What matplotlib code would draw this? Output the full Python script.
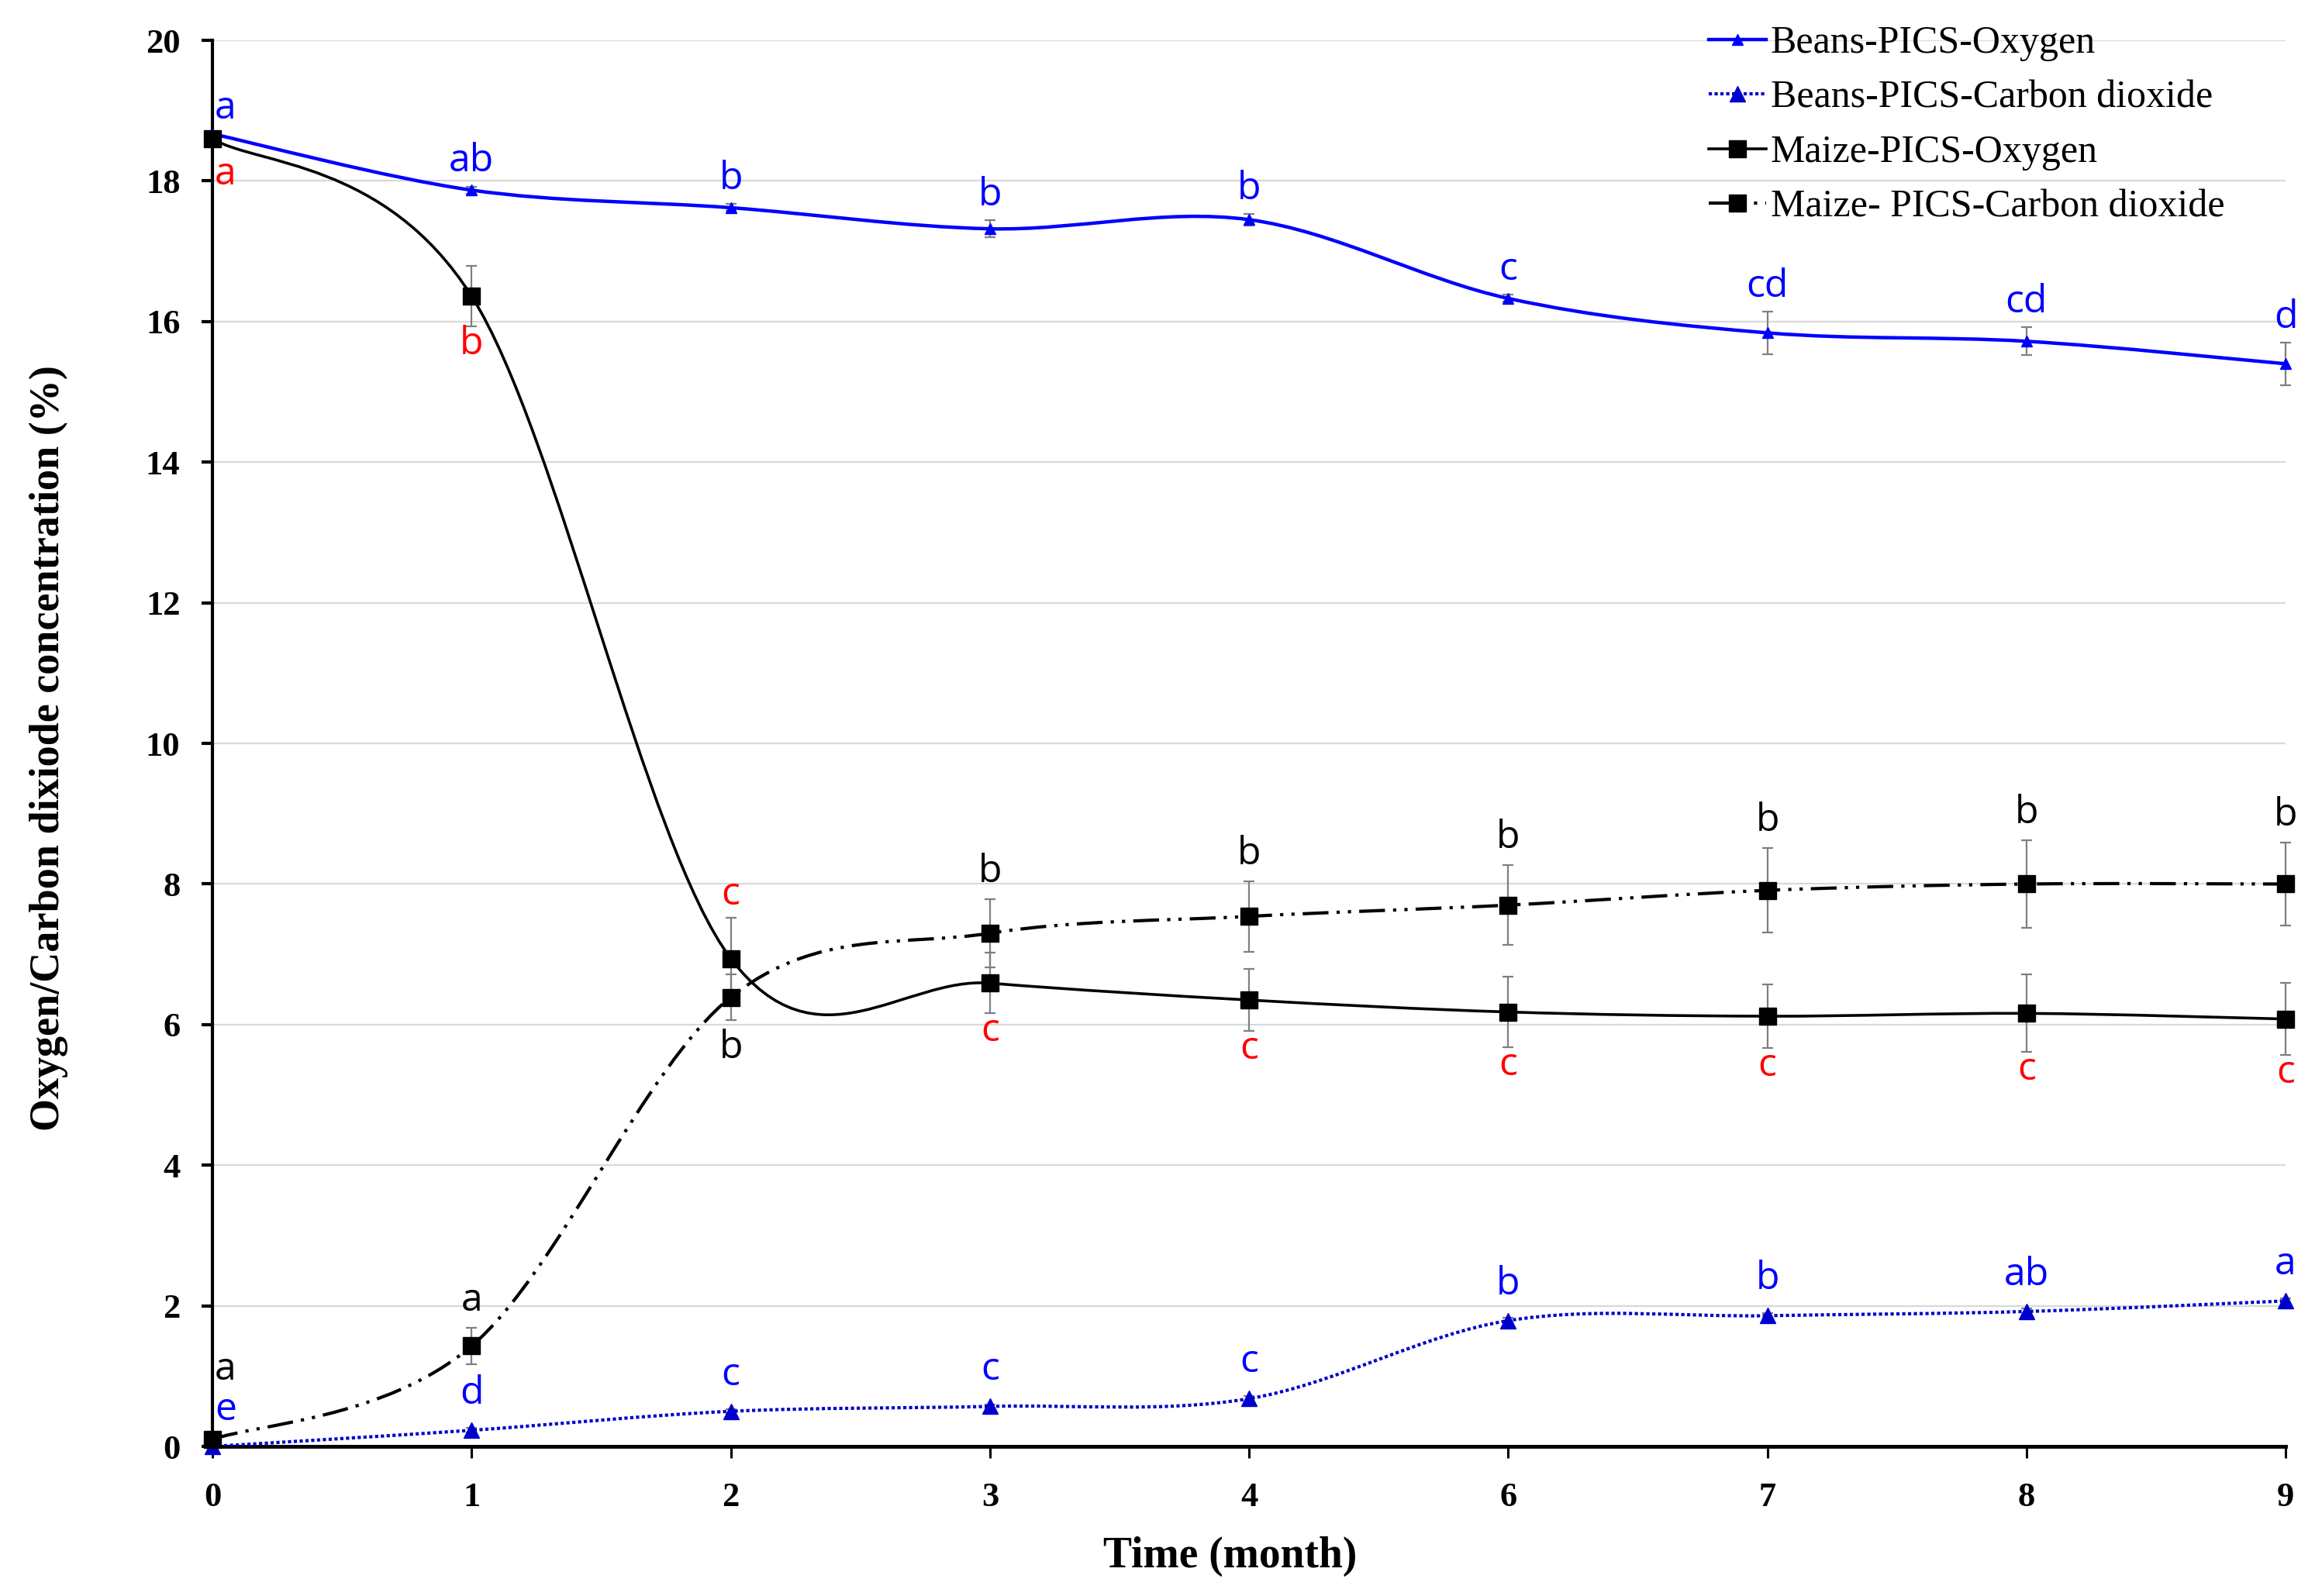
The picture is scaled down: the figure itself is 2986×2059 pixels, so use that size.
import matplotlib
matplotlib.use("Agg")
import matplotlib.pyplot as plt
import numpy as np
from matplotlib.path import Path
from matplotlib.patches import PathPatch
from matplotlib.lines import Line2D

# categories (time in months, equally spaced on a category axis)
months = ["0", "1", "2", "3", "4", "6", "7", "8", "9"]

# Beans in PICS bags
beans_o2 = [18.67, 17.87, 17.62, 17.32, 17.45, 16.33, 15.84, 15.72, 15.40]
beans_o2_err = [0.0, 0.05, 0.05, 0.12, 0.08, 0.05, 0.30, 0.20, 0.30]
beans_co2 = [0.0, 0.23, 0.50, 0.57, 0.68, 1.79, 1.86, 1.92, 2.07]
beans_co2_err = [0.0, 0.03, 0.03, 0.03, 0.04, 0.04, 0.04, 0.04, 0.04]

# Maize in PICS bags
maize_o2 = [18.60, 16.36, 6.94, 6.59, 6.35, 6.18, 6.12, 6.16, 6.08]
maize_o2_err = [0.0, 0.43, 0.58, 0.43, 0.44, 0.50, 0.45, 0.55, 0.51]
maize_co2 = [0.10, 1.43, 6.39, 7.30, 7.54, 7.70, 7.91, 8.00, 8.00]
maize_co2_err = [0.0, 0.26, 0.33, 0.48, 0.50, 0.57, 0.60, 0.62, 0.59]

# significance letters
beans_o2_lab = ["a", "ab", "b", "b", "b", "c", "cd", "cd", "d"]
beans_co2_lab = ["e", "d", "c", "c", "c", "b", "b", "ab", "a"]
maize_o2_lab = ["a", "b", "c", "c", "c", "c", "c", "c", "c"]
maize_co2_lab = ["a", "a", "b", "b", "b", "b", "b", "b", "b"]

BLUE = "#0000ff"
BLUE2 = "#0000cc"
RED = "#ff0000"
serif = "Liberation Serif"
sans = "Open Sans"


def smooth_path(xs, ys):
    # Bezier curve through the points (like Excel's "smoothed line")
    pts = np.column_stack([xs, ys]).astype(float)
    n = len(pts)
    verts = [pts[0]]
    codes = [Path.MOVETO]
    for i in range(n - 1):
        p0 = pts[max(i - 1, 0)]
        p1 = pts[i]
        p2 = pts[i + 1]
        p3 = pts[min(i + 2, n - 1)]
        c1 = p1 + (p2 - p0) / 6.0
        c2 = p2 - (p3 - p1) / 6.0
        verts += [c1, c2, p2]
        codes += [Path.CURVE4] * 3
    return Path(verts, codes)


fig = plt.figure(figsize=(29.86, 20.59), dpi=100)
ax = fig.add_axes([0.0918, 0.0937, 0.8955, 0.881])

x = np.arange(len(months))

ax.set_xlim(0, len(months) - 1)
ax.set_ylim(0, 20)
ax.set_yticks(np.arange(0, 21, 2))
ax.set_xticks(x)
ax.set_xticklabels(months)
for yv in range(2, 21, 2):
    ax.axhline(yv, color="#d9d9d9", lw=1.6, zorder=0)

series = [
    (beans_o2, beans_o2_err, BLUE, "-", 3.2, "^", 10, "Beans-PICS-Oxygen"),
    (beans_co2, beans_co2_err, BLUE2, (0, (1, 0.8)), 3.0, "^", 15, "Beans-PICS-Carbon dioxide"),
    (maize_o2, maize_o2_err, "black", "-", 2.6, "s", 16, "Maize-PICS-Oxygen"),
    (maize_co2, maize_co2_err, "black", (0, (8, 2.5, 1, 2.5, 1, 2.5)), 3.0, "s", 16,
     "Maize- PICS-Carbon dioxide"),
]

handles = []
for vals, err, col, ls, lw, mk, ms, name in series:
    patch = PathPatch(smooth_path(x, vals), fill=False, edgecolor=col, lw=lw,
                      linestyle=ls, zorder=3, capstyle="butt")
    ax.add_patch(patch)
    ax.errorbar(x, vals, yerr=err, fmt="none", ecolor="#7f7f7f", elinewidth=1.6,
                capsize=5, capthick=1.6, zorder=2, clip_on=False)
    ax.plot(x, vals, linestyle="none", marker=mk, ms=ms, color=col, zorder=4, clip_on=False)
    handles.append(Line2D([], [], color=col, lw=lw, linestyle=ls, marker=mk, ms=ms, label=name))

# significance letters
fs_lab = 36


def letter(i, t, yref, gap, col, where):
    dx = 2 if i == 0 else 0
    ha = "left" if i == 0 else "center"
    if where == "above":
        ax.annotate(t, (x[i], yref), xytext=(dx, gap), textcoords="offset points",
                    ha=ha, va="baseline", color=col, fontsize=fs_lab, family=sans,
                    annotation_clip=False, zorder=5)
    else:
        ax.annotate(t, (x[i], yref), xytext=(dx, -gap), textcoords="offset points",
                    ha=ha, va="top", color=col, fontsize=fs_lab, family=sans,
                    annotation_clip=False, zorder=5)


for i in range(len(months)):
    # beans oxygen: above
    letter(i, beans_o2_lab[i], beans_o2[i] + beans_o2_err[i], 14, BLUE, "above")
    # beans carbon dioxide: above
    letter(i, beans_co2_lab[i], beans_co2[i] + max(beans_co2_err[i], 0.3), 5, BLUE, "above")
    # maize oxygen: below, except month 2 (above)
    if i == 2:
        letter(i, maize_o2_lab[i], maize_o2[i] + maize_o2_err[i], 12, RED, "above")
    else:
        letter(i, maize_o2_lab[i], maize_o2[i] - max(maize_o2_err[i], 0.25), -1, RED, "below")
    # maize carbon dioxide: above, except month 2 (below)
    if i == 2:
        letter(i, maize_co2_lab[i], maize_co2[i] - maize_co2_err[i], 8, "black", "below")
    else:
        gap = 39 if i == 0 else 16
        letter(i, maize_co2_lab[i], maize_co2[i] + max(maize_co2_err[i], 0.25), gap,
               "black", "above")

# axes styling
for s in ["top", "right"]:
    ax.spines[s].set_visible(False)
ax.spines["left"].set_linewidth(3)
ax.spines["bottom"].set_linewidth(3.5)
ax.tick_params(axis="y", direction="out", length=10, width=3, pad=20)
ax.tick_params(axis="x", direction="out", length=11, width=2.2, pad=22)
for lab in ax.get_xticklabels() + ax.get_yticklabels():
    lab.set_fontfamily(serif)
    lab.set_fontweight("bold")
    lab.set_fontsize(32)

fig.text(63 / 2986, 1 - 965 / 2059, "Oxygen/Carbon dixiode concentration (%)", rotation=90,
         ha="center", va="center", fontsize=39, fontweight="bold", family=serif)
fig.text(1587 / 2986, 1 - 2008 / 2059, "Time (month)", ha="center", va="center",
         fontsize=40, fontweight="bold", family=serif)

fig.legend(handles=handles, loc="upper left", bbox_to_anchor=(0.738, 0.984), frameon=False,
           prop={"family": serif, "size": 36}, handlelength=1.48, handletextpad=0.12,
           labelspacing=0.48, borderpad=0, borderaxespad=0)

fig.savefig("out.png", dpi=100)
